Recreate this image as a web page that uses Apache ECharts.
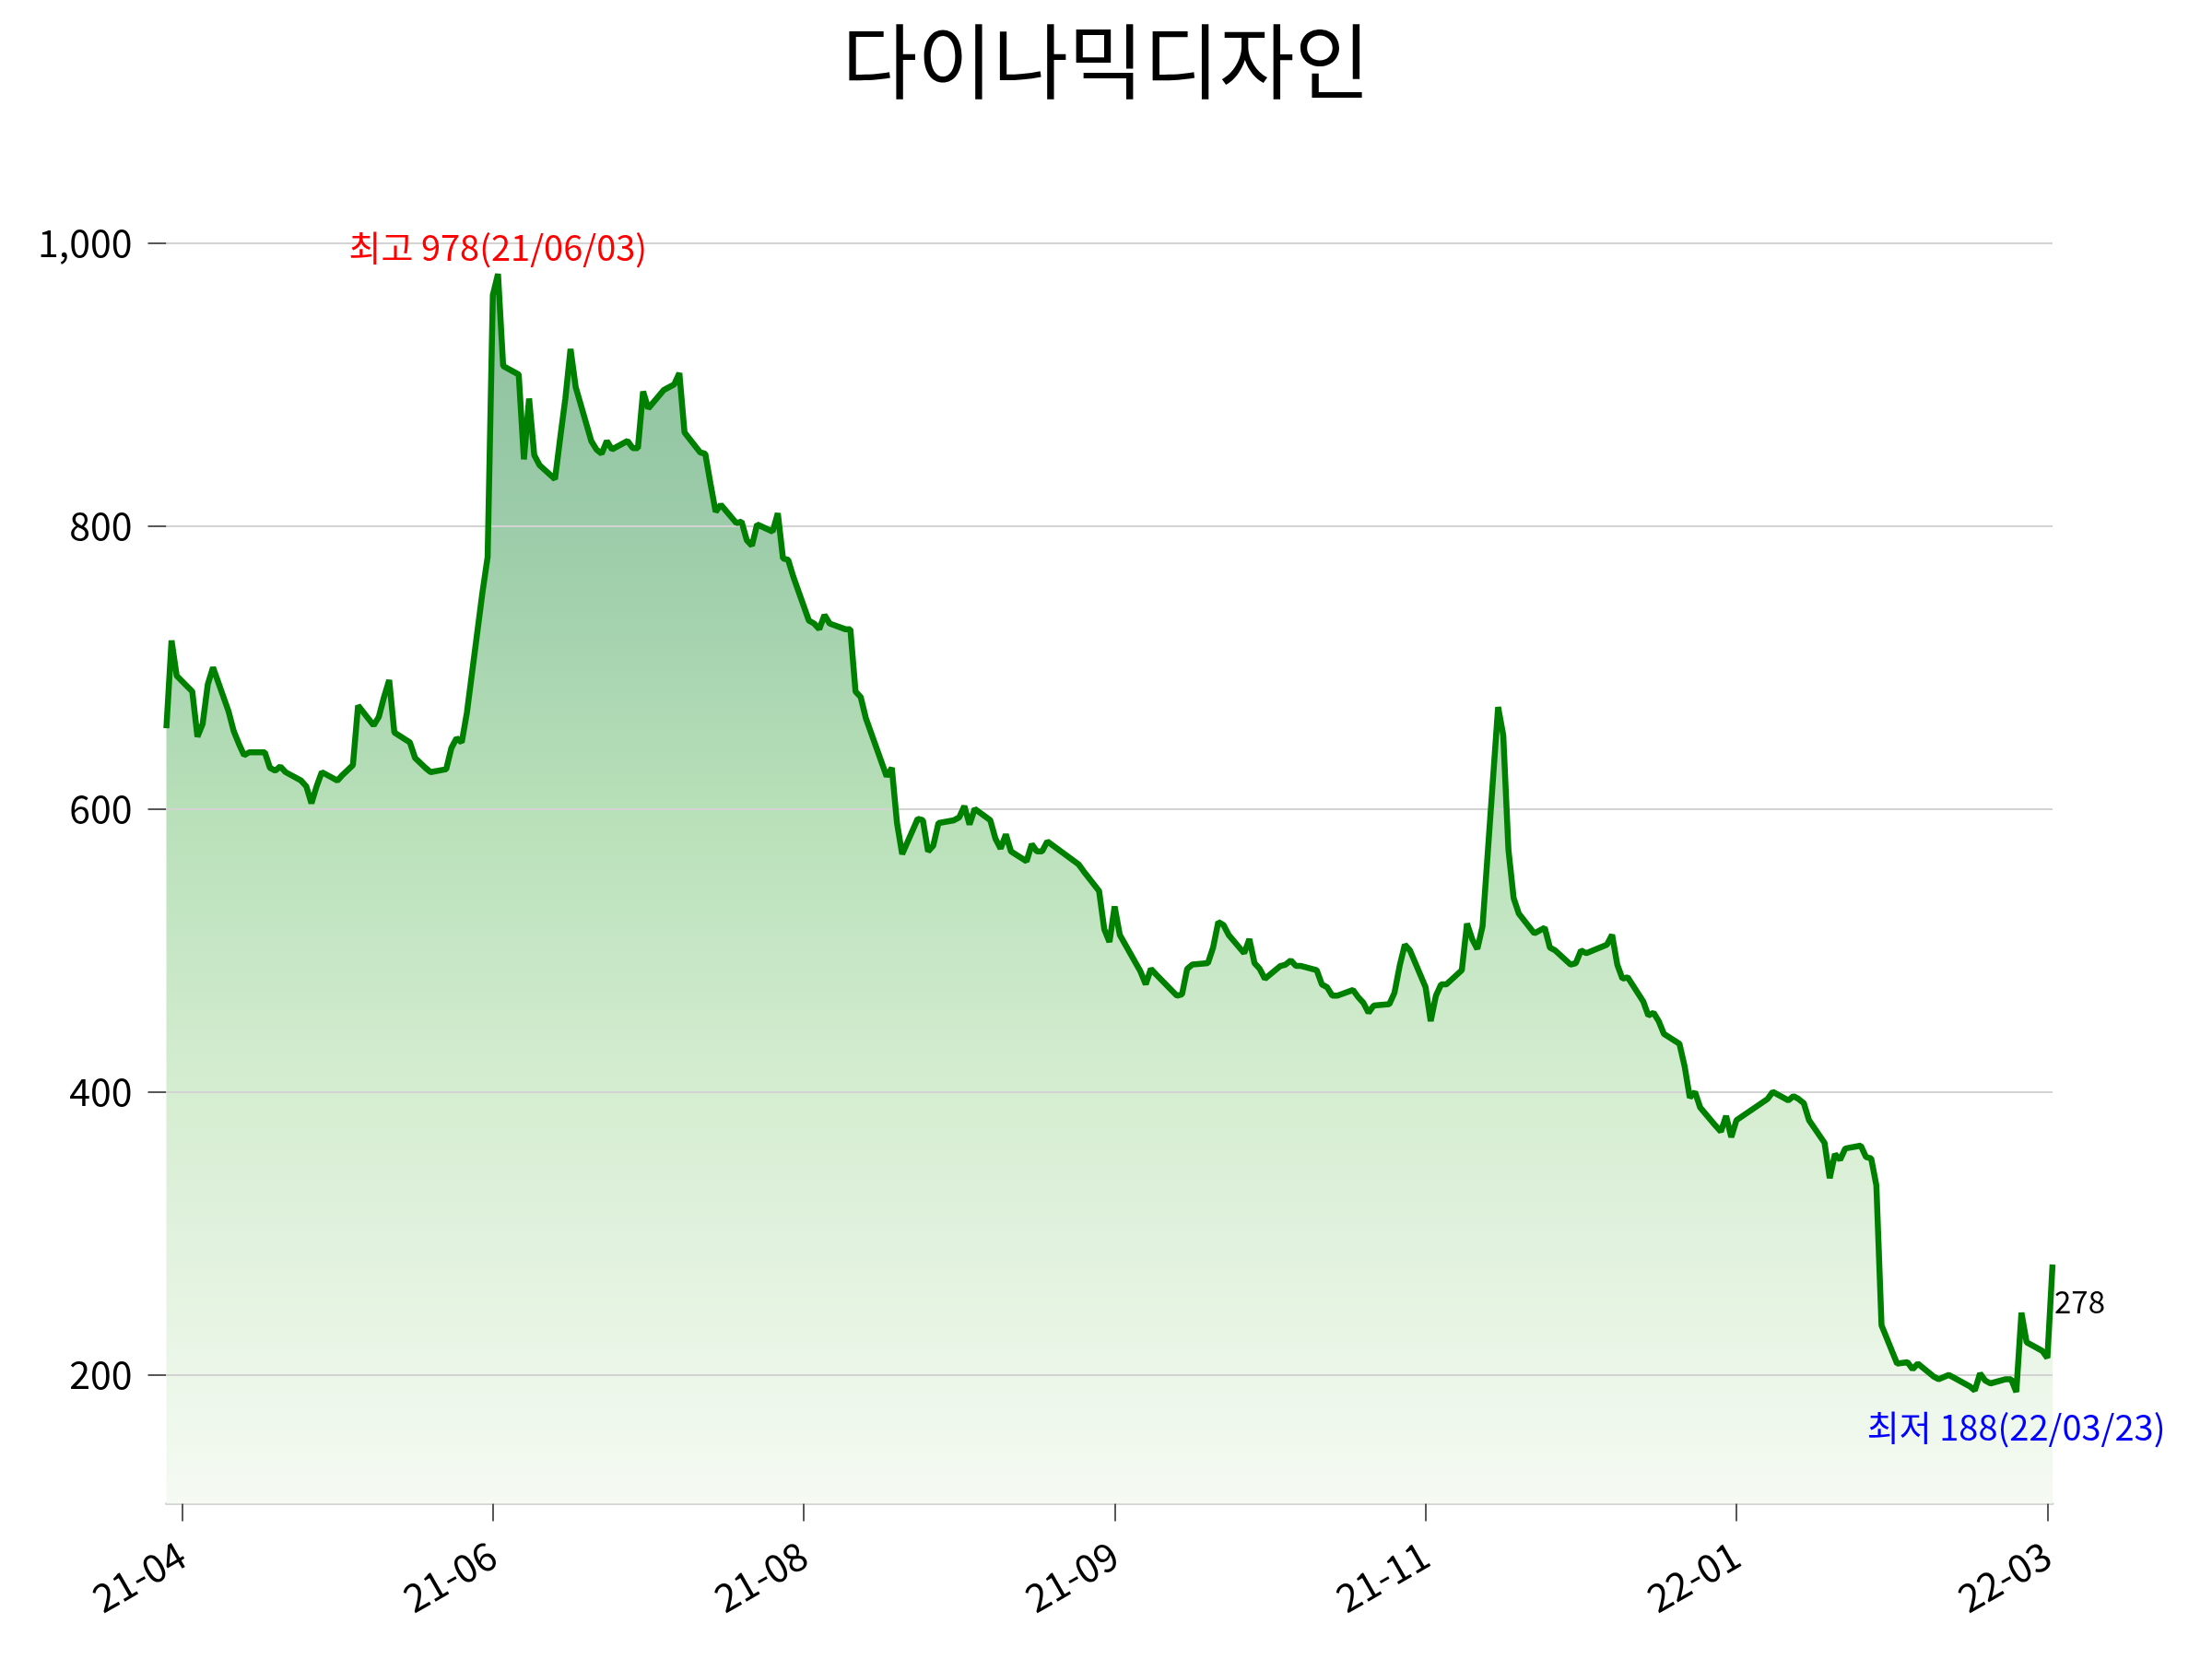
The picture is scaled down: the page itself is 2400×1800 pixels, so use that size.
<!DOCTYPE html>
<html style="height: 100%">
<head>
    <meta charset="utf-8">
    <title>다이나믹디자인</title>
    <script src="https://cdn.jsdelivr.net/npm/echarts@6/dist/echarts.min.js"></script>
</head>
<body style="height: 100%; margin: 0; background: #ffffff">
    <div id="chart" style="width: 2400px; height: 1800px;"></div>

    <script type="text/javascript">
    var FONT = 'Noto Sans CJK KR';
    var chartTitle = '다이나믹디자인';

    // trading days run from firstDay to lastDay, skipping weekends and KRX holidays
    var firstDay = '2021-03-31';
    var lastDay = '2022-03-30';
    var holidays = ['2021-05-05', '2021-05-19', '2021-08-16', '2021-09-20', '2021-09-21',
        '2021-09-22', '2021-10-04', '2021-10-11', '2021-12-31', '2022-01-31',
        '2022-02-01', '2022-02-02', '2022-03-01', '2022-03-09'];

    // closing prices, one per trading day
    var prices = [
        657,
        719, 694, 683, 651, 660, 688, 700, 669, 655, 646, 638, 640, 640, 629, 627, 630, 626, 620, 616, 604, 616, 626,
        620, 624, 631, 673, 659, 665, 679, 691, 654, 647, 636, 629, 626, 628, 643, 650, 647, 668, 753,
        778, 963, 978, 913, 907, 847, 890, 850, 843, 833, 862, 890, 925, 898, 860, 854, 851, 860, 854, 860, 855, 855,
        895, 883, 896, 898, 900, 908, 866, 852, 851, 830, 810, 815, 802, 803, 790, 786, 801, 796, 809, 777, 776, 764,
        733, 731, 727, 737, 731, 727, 727, 683, 679, 664, 623, 629, 590, 568, 593, 592, 570, 574, 590, 592, 594,
        602, 589, 600, 592, 579, 572, 582, 570, 563, 575, 570, 570, 577, 561, 556, 542, 515, 506, 531,
        511, 485, 476, 487, 483, 468, 469, 487, 490, 491, 502, 520, 518, 511, 498, 508, 491, 487, 480,
        489, 490, 493, 489, 489, 486, 476, 474, 468, 468, 472, 467, 463, 456, 461, 462, 470, 489, 504, 500, 474, 450,
        468, 476, 476, 486, 519, 508, 501, 517, 672, 652, 571, 537, 526, 512, 514, 516, 502, 500, 490, 491, 500, 498,
        504, 511, 490, 480, 481, 464, 454, 456, 450, 441, 434, 418, 396, 400, 389, 376, 372, 383, 368, 380,
        395, 400, 394, 397, 395, 392, 380, 364, 339, 356, 352, 360, 362, 354, 353, 334, 235, 208,
        209, 204, 208, 199, 197, 200, 198, 192, 189, 201, 196, 194, 197, 197, 188, 244, 223, 217, 212, 278
    ];

    var tickDates = ['2021-04-03', '2021-06-02', '2021-08-01', '2021-09-30', '2021-11-29', '2022-01-28', '2022-03-29'];
    var tickLabels = ['21-04', '21-06', '21-08', '21-09', '21-11', '22-01', '22-03'];
    var yTicks = [200, 400, 600, 800, 1000];
    var yMin = 109;
    var yMax = 1057;

    var DAY = 86400000;
    function toTime(s) {
        var p = s.split('-');
        return Date.UTC(+p[0], +p[1] - 1, +p[2]);
    }
    function pad(n) { return (n < 10 ? '0' : '') + n; }
    function isoDay(t) {
        var d = new Date(t);
        return d.getUTCFullYear() + '-' + pad(d.getUTCMonth() + 1) + '-' + pad(d.getUTCDate());
    }
    function shortDay(t) {
        var d = new Date(t);
        return pad(d.getUTCFullYear() % 100) + '/' + pad(d.getUTCMonth() + 1) + '/' + pad(d.getUTCDate());
    }

    var days = [];
    for (var t = toTime(firstDay); t <= toTime(lastDay); t += DAY) {
        var wd = new Date(t).getUTCDay();
        if (wd === 0 || wd === 6) continue;
        if (holidays.indexOf(isoDay(t)) >= 0) continue;
        days.push(t);
    }
    if (days.length !== prices.length) {
        console.warn('days ' + days.length + ' vs prices ' + prices.length);
    }

    var seriesData = [];
    for (var i = 0; i < prices.length && i < days.length; i++) {
        seriesData.push([days[i], prices[i]]);
    }
    var maxIdx = 0, minIdx = 0;
    for (var j = 1; j < seriesData.length; j++) {
        if (seriesData[j][1] > seriesData[maxIdx][1]) maxIdx = j;
        if (seriesData[j][1] < seriesData[minIdx][1]) minIdx = j;
    }
    var lastIdx = seriesData.length - 1;
    var tickTimes = tickDates.map(toTime);

    var myChart = echarts.init(document.getElementById('chart'), null, { renderer: 'canvas' });

    var option = {
        backgroundColor: '#ffffff',
        animation: false,
        title: {
            text: chartTitle,
            left: 'center',
            top: 17,
            textStyle: {
                color: '#000',
                fontSize: 89,
                fontWeight: 'normal',
                fontFamily: FONT
            }
        },
        grid: {
            left: 180.5,
            right: 173,
            top: 176,
            bottom: 168.5,
            containLabel: false,
            outerBoundsMode: 'none'
        },
        xAxis: {
            type: 'value',
            min: days[0],
            max: days[days.length - 1],
            axisLine: { show: true, onZero: false, lineStyle: { color: '#d3d3d3', width: 3 } },
            axisTick: {
                show: true,
                customValues: tickTimes,
                length: 19,
                lineStyle: { color: '#222', width: 1.5 }
            },
            axisLabel: {
                customValues: tickTimes,
                rotate: 30,
                margin: 52,
                fontSize: 42,
                color: '#000',
                fontFamily: FONT,
                formatter: function (v) {
                    var k = 0;
                    for (var n = 1; n < tickTimes.length; n++) {
                        if (Math.abs(tickTimes[n] - v) < Math.abs(tickTimes[k] - v)) k = n;
                    }
                    return tickLabels[k];
                }
            },
            splitLine: { show: false }
        },
        yAxis: {
            type: 'value',
            min: yMin,
            max: yMax,
            axisLine: { show: false },
            axisTick: {
                show: true,
                customValues: yTicks,
                length: 20,
                lineStyle: { color: '#222', width: 1.5 }
            },
            axisLabel: {
                customValues: yTicks,
                margin: 37,
                fontSize: 41,
                color: '#000',
                fontFamily: FONT,
                formatter: function (v) { return v.toLocaleString('en-US'); }
            },
            splitLine: { show: false }
        },
        series: [
            {
                // gradient fill under the price line, gridlines sit above it
                type: 'line',
                data: seriesData,
                z: 1,
                silent: true,
                symbol: 'none',
                lineStyle: { width: 0, opacity: 0 },
                areaStyle: {
                    color: new echarts.graphic.LinearGradient(0, 0, 0, 1, [
                        { offset: 0, color: '#8fc19e' },
                        { offset: 0.21, color: '#9ccca9' },
                        { offset: 0.44, color: '#b8e0b9' },
                        { offset: 0.665, color: '#d5edd1' },
                        { offset: 0.894, color: '#ebf6e8' },
                        { offset: 1, color: '#f5faf3' }
                    ]),
                    opacity: 1
                },
                markLine: {
                    z: 2,
                    silent: true,
                    symbol: ['none', 'none'],
                    label: { show: false },
                    lineStyle: { color: '#d3d3d3', type: 'solid', width: 2 },
                    data: yTicks.map(function (v) { return { yAxis: v }; })
                }
            },
            {
                type: 'line',
                data: seriesData,
                z: 3,
                symbol: 'none',
                lineStyle: { color: '#008000', width: 6.5 },
                markPoint: {
                    symbol: 'circle',
                    symbolSize: 1,
                    itemStyle: { color: 'rgba(0,0,0,0)' },
                    label: {
                        show: true,
                        position: 'inside',
                        fontSize: 38,
                        fontFamily: FONT
                    },
                    data: [
                        {
                            coord: seriesData[maxIdx],
                            label: {
                                color: '#ff0000',
                                offset: [0, -29],
                                formatter: '최고 ' + seriesData[maxIdx][1] + '(' + shortDay(seriesData[maxIdx][0]) + ')'
                            }
                        },
                        {
                            coord: seriesData[minIdx],
                            label: {
                                color: '#0000ff',
                                offset: [0, 38],
                                formatter: '최저 ' + seriesData[minIdx][1] + '(' + shortDay(seriesData[minIdx][0]) + ')'
                            }
                        },
                        {
                            coord: seriesData[lastIdx],
                            label: {
                                color: '#000000',
                                align: 'left',
                                fontSize: 33,
                                offset: [2, 40],
                                formatter: String(seriesData[lastIdx][1])
                            }
                        }
                    ]
                }
            }
        ]
    };

    myChart.setOption(option);
    </script>
</body>
</html>
